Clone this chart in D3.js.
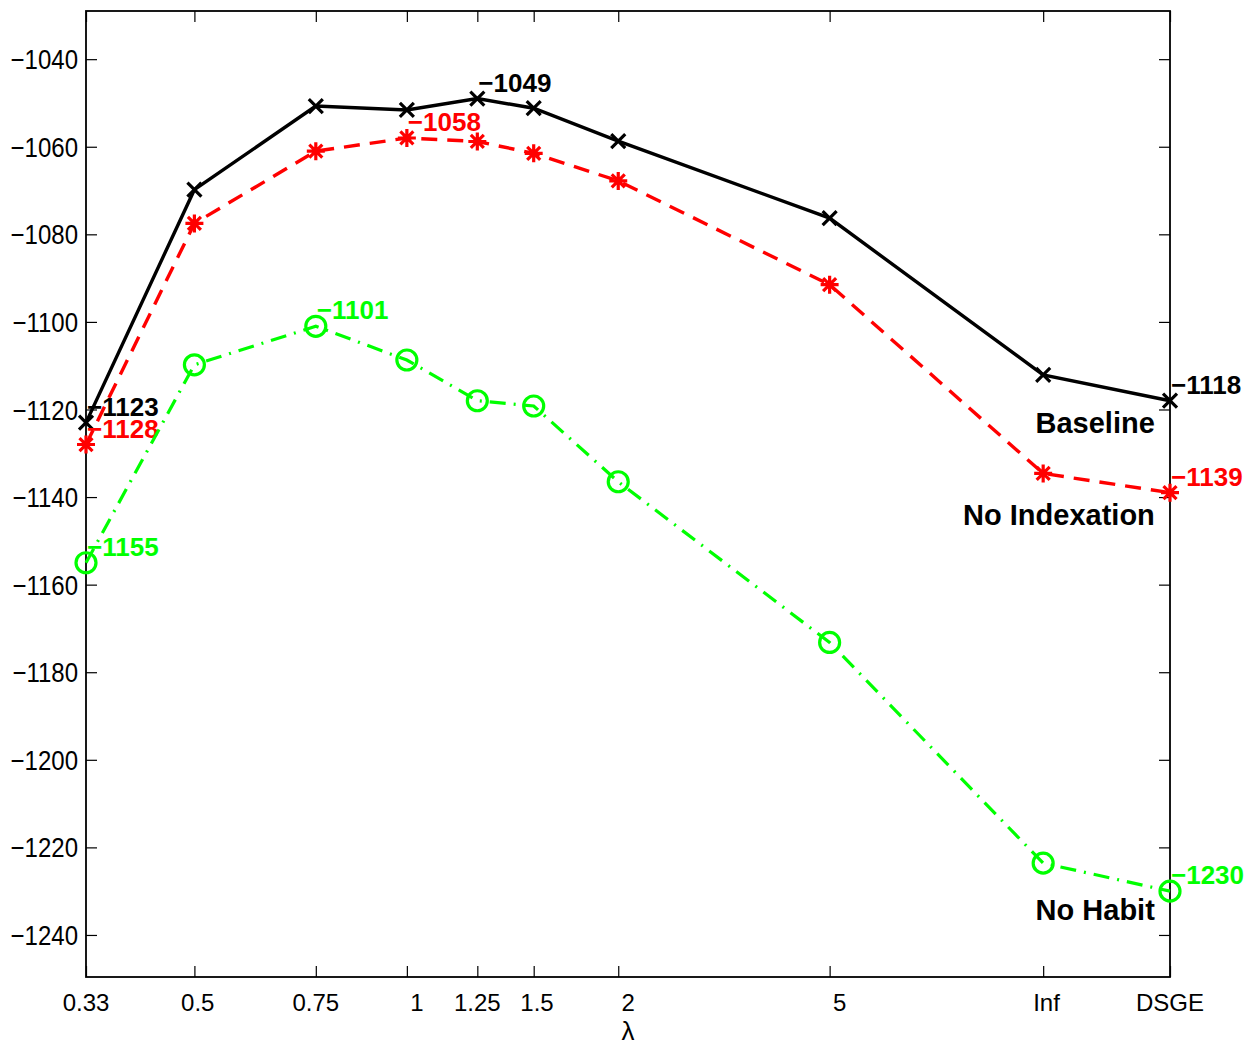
<!DOCTYPE html>
<html>
<head>
<meta charset="utf-8">
<script src="https://cdn.jsdelivr.net/npm/d3@7"></script>
<style>
  html, body { margin: 0; padding: 0; background: #fff; }
  svg { display: block; }
</style>
</head>
<body>
<script>
// λ values along the horizontal axis, and where each sits on the axis (0–100)
const categories = ["0.33", "0.5", "0.75", "1", "1.25", "1.5", "2", "5", "Inf", "DSGE"];
const axisPosition = [0, 10.0, 21.2, 29.6, 36.1, 41.3, 49.1, 68.6, 88.3, 100];

// Log marginal likelihood for each model variant
const baseline     = [-1123, -1069.8, -1050.7, -1051.6, -1049, -1051.2, -1058.7, -1076.3, -1112.1, -1118];
const noIndexation = [-1128, -1077.5, -1061.0, -1058, -1058.8, -1061.5, -1067.8, -1091.5, -1134.6, -1139];
const noHabit      = [-1155, -1109.8, -1101, -1108.7, -1118.0, -1119.2, -1136.5, -1173.2, -1223.6, -1230];

const yTicks = [-1240, -1220, -1200, -1180, -1160, -1140, -1120, -1100, -1080, -1060, -1040];
const yDomain = [-1249.6, -1029.0];

const seriesNames = ["Baseline", "No Indexation", "No Habit"];
// series name labels: axis position and value where they are written
const nameLabelX = [98.6, 98.6, 98.6];
const nameLabelY = [-1125.4, -1146.4, -1236.6];

const W = 1258, H = 1047;
const margin = { left: 86, top: 11, right: 1170, bottom: 977 };

const svg = d3.select("body").append("svg")
  .attr("width", W).attr("height", H)
  .style("background", "#fff");

const x = d3.scaleLinear().domain([0, 100]).range([margin.left, margin.right]);
const y = d3.scaleLinear().domain(yDomain).range([margin.bottom, margin.top]);

const tickFont = "'Liberation Sans', Arial, Helvetica, sans-serif";
const boldFont = "'Liberation Sans', Arial, Helvetica, sans-serif";

// ---- axes box with inward ticks on all four sides ----
const g = svg.append("g");
const tickLen = 11;

const bottomAxis = d3.axisBottom(x).tickValues(axisPosition).tickSize(-tickLen).tickFormat("");
const topAxis = d3.axisTop(x).tickValues(axisPosition).tickSize(-tickLen).tickFormat("");
const leftAxis = d3.axisLeft(y).tickValues(yTicks).tickSize(-tickLen).tickFormat("");
const rightAxis = d3.axisRight(y).tickValues(yTicks).tickSize(-tickLen).tickFormat("");

g.append("g").attr("transform", `translate(0,${margin.bottom})`).call(bottomAxis);
g.append("g").attr("transform", `translate(0,${margin.top})`).call(topAxis);
g.append("g").attr("transform", `translate(${margin.left},0)`).call(leftAxis);
g.append("g").attr("transform", `translate(${margin.right},0)`).call(rightAxis);

g.selectAll(".domain").remove();
g.selectAll(".tick line").attr("stroke", "#000").attr("stroke-width", 1.2);

g.append("rect")
  .attr("x", margin.left).attr("y", margin.top)
  .attr("width", margin.right - margin.left)
  .attr("height", margin.bottom - margin.top)
  .attr("fill", "none").attr("stroke", "#000").attr("stroke-width", 1.8);

// x tick labels: shorter labels are padded with trailing spaces to a common width
const maxLen = d3.max(categories, d => d.length);
const spaceW = 0.278 * 24;
svg.append("g").selectAll("text")
  .data(categories)
  .join("text")
  .attr("x", (d, i) => x(axisPosition[i]) + (maxLen - d.length) * spaceW / 2)
  .attr("y", 1011)
  .attr("text-anchor", "middle")
  .style("font-family", tickFont)
  .style("font-size", "24px")
  .text(d => d);

// y tick labels (slightly tall glyphs)
svg.append("g").selectAll("text")
  .data(yTicks)
  .join("text")
  .attr("transform", d => `translate(${margin.left - 8},${y(d)}) scale(1,1.16)`)
  .attr("dy", "0.36em")
  .attr("text-anchor", "end")
  .style("font-family", tickFont)
  .style("font-size", "24px")
  .text(d => d3.format("d")(d).replace("-", "\u2212"));

// axis title
svg.append("text")
  .attr("x", (margin.left + margin.right) / 2)
  .attr("y", 1040)
  .attr("text-anchor", "middle")
  .style("font-family", tickFont)
  .style("font-size", "26px")
  .text("λ");

// ---- series ----
const series = [
  { values: baseline, color: "#000000", dash: null, marker: "x", width: 3.4 },
  { values: noIndexation, color: "#ff0000", dash: "16,10", marker: "star", width: 3.4 },
  { values: noHabit, color: "#00ff00", dash: "16,8,2,8", marker: "circle", width: 3.2 }
];

const line = d3.line()
  .x((d, i) => x(axisPosition[i]))
  .y(d => y(d));

const plot = svg.append("g");

series.forEach(s => {
  plot.append("path")
    .datum(s.values)
    .attr("d", line)
    .attr("fill", "none")
    .attr("stroke", s.color)
    .attr("stroke-width", s.width)
    .attr("stroke-dasharray", s.dash)
    .attr("stroke-linejoin", "miter");

  const mk = plot.append("g").selectAll("g")
    .data(s.values)
    .join("g")
    .attr("transform", (d, i) => `translate(${x(axisPosition[i])},${y(d)})`);

  if (s.marker === "x") {
    const a = 7;
    mk.append("path")
      .attr("d", `M${-a},${-a}L${a},${a}M${-a},${a}L${a},${-a}`)
      .attr("stroke", s.color).attr("stroke-width", 3.2).attr("fill", "none");
  } else if (s.marker === "star") {
    const a = 9, b = 6.5;
    mk.append("path")
      .attr("d", `M${-a},0L${a},0M0,${-a}L0,${a}M${-b},${-b}L${b},${b}M${-b},${b}L${b},${-b}`)
      .attr("stroke", s.color).attr("stroke-width", 3.2).attr("fill", "none");
  } else {
    mk.append("circle")
      .attr("r", 10)
      .attr("stroke", s.color).attr("stroke-width", 3.2).attr("fill", "none");
  }

  // value labels at first point, highest point and last point
  const n = s.values.length;
  const iMax = d3.maxIndex(s.values);
  const idx = Array.from(new Set([0, iMax, n - 1]));
  plot.append("g").selectAll("text")
    .data(idx)
    .join("text")
    .attr("x", i => x(axisPosition[i]) + 1)
    .attr("y", i => y(s.values[i]) - 7)
    .style("font-family", boldFont)
    .style("font-size", "26px")
    .style("font-weight", "bold")
    .attr("fill", s.color)
    .text(i => "\u2212" + Math.abs(Math.round(s.values[i])));
});

// series name labels
svg.append("g").selectAll("text")
  .data(seriesNames)
  .join("text")
  .attr("x", (d, i) => x(nameLabelX[i]))
  .attr("y", (d, i) => y(nameLabelY[i]))
  .attr("text-anchor", "end")
  .style("font-family", boldFont)
  .style("font-size", "29px")
  .style("font-weight", "bold")
  .attr("fill", "#000")
  .text(d => d);
</script>
</body>
</html>
